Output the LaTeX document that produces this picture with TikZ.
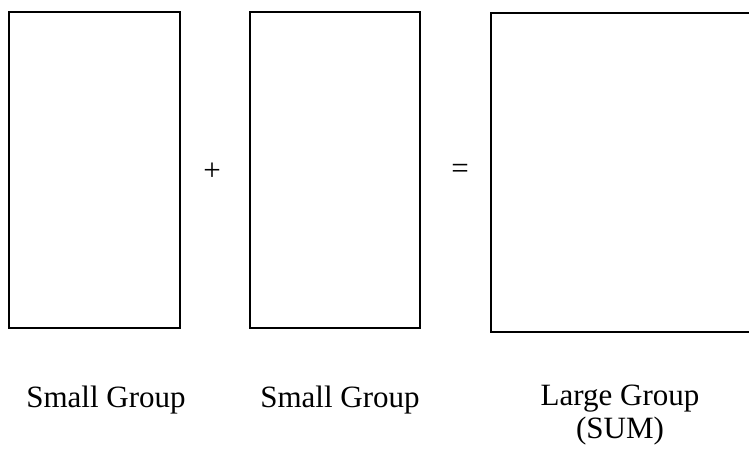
\documentclass[tikz,border=0pt]{standalone}
\usepackage{fontspec}
\setmainfont{Liberation Serif}
\begin{document}
\begin{tikzpicture}[x=1pt,y=-1pt,
  grp/.style={draw=black,line width=2pt,inner sep=0pt,outer sep=0pt,anchor=north west},
  lbl/.style={font=\fontsize{31}{34}\selectfont,inner sep=0pt,anchor=base,align=center},
  op/.style={font=\fontsize{31}{34}\selectfont,inner sep=0pt}]
\useasboundingbox (0,0) rectangle (749,450);
\clip (0,0) rectangle (749,450);
\node[grp,minimum width=171pt,minimum height=316pt] (b1) at (9,12) {};
\node[grp,minimum width=170pt,minimum height=316pt] (b2) at (250,12) {};
\node[grp,minimum width=275pt,minimum height=319pt] (b3) at (491,13) {};
\node[op] (plus) at (212,172) {+};
\node[op] (eq) at (460,171) {=};
\node[lbl] (l1) at (106,407) {Small Group};
\node[lbl] (l2) at (340,407) {Small Group};
\node[lbl] (l3) at (620,405) {Large Group};
\node[lbl] (l4) at (620,438) {(SUM)};
\end{tikzpicture}
\end{document}
